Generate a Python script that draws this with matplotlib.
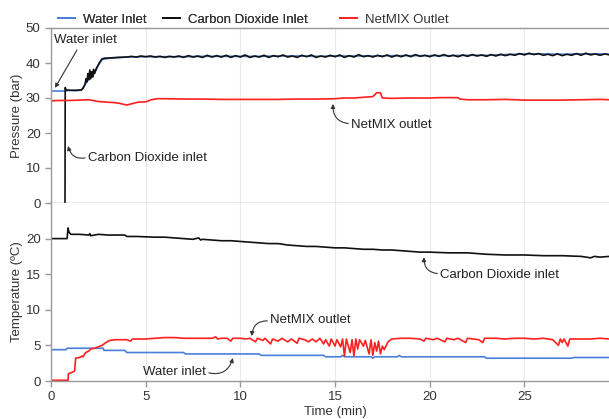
import matplotlib
matplotlib.use("Agg")
import matplotlib.pyplot as plt
from matplotlib.lines import Line2D

plt.rcParams['font.family'] = ['Liberation Sans', 'DejaVu Sans']
FS = 9.5

# ---------------- Pressure data (bar) ----------------
t_p_water = [0, 0.8, 0.9, 1.3, 1.6, 1.8, 2.0, 2.2, 2.4, 2.55, 2.7, 3.0,
             4, 5, 6, 7, 8, 9, 10, 11, 12, 13, 14, 15, 16, 17, 18, 19, 20,
             21, 22, 23, 24, 25, 26, 27, 28, 29, 29.5]
p_water = [32.0, 32.0, 32.2, 32.1, 32.2, 33.8, 35.5, 36.2, 38.3, 39.8, 41.0, 41.3,
           41.7, 41.8, 41.8, 41.8, 41.9, 41.9, 41.9, 41.9, 42.0, 42.0, 41.9, 42.0,
           42.0, 42.0, 42.1, 42.1, 42.1, 42.1, 42.2, 42.2, 42.4, 42.6, 42.6, 42.5,
           42.6, 42.6, 42.5]

t_p_co2 = [0.74, 0.75, 0.8, 1.0, 1.3, 1.6, 1.7, 1.8, 1.85, 1.9, 1.95, 2.0, 2.05,
           2.1, 2.15, 2.2, 2.25, 2.3, 2.4, 2.55, 2.7, 2.85, 3.0, 3.5,
           4.0, 4.25, 4.5, 4.75, 5.0, 5.25, 5.5, 5.75, 6.0, 6.25, 6.5, 6.75,
           7.0, 7.25, 7.5, 7.75, 8.0, 8.25, 8.5, 8.75, 9.0, 9.25, 9.5, 9.75,
           10.0, 10.25, 10.5, 10.75, 11.0, 11.25, 11.5, 11.75, 12.0, 12.25, 12.5, 12.75,
           13.0, 13.25, 13.5, 13.75, 14.0, 14.25, 14.5, 14.75, 15.0, 15.25, 15.5, 15.75,
           16.0, 16.25, 16.5, 16.75, 17.0, 17.25, 17.5, 17.75, 18.0, 18.25, 18.5, 18.75,
           19.0, 19.25, 19.5, 19.75, 20.0, 20.25, 20.5, 20.75, 21.0, 21.25, 21.5, 21.75,
           22.0, 22.25, 22.5, 22.75, 23.0, 23.25, 23.5, 23.75, 24.0, 24.25, 24.5, 24.75,
           25.0, 25.25, 25.5, 25.75, 26.0, 26.25, 26.5, 26.75, 27.0, 27.25, 27.5, 27.75,
           28.0, 28.25, 28.5, 28.75, 29.0, 29.25, 29.5]
p_co2 = [0, 33, 32.3, 32.2, 32.2, 32.3, 32.8, 34.0, 35.5, 34.6, 37.0, 35.2, 38.0,
         35.5, 37.5, 36.0, 38.2, 37.0, 38.5, 40.0, 41.2, 41.4, 41.4, 41.6,
         41.7, 41.9, 41.7, 42.0, 41.8, 42.0, 41.7, 41.9, 41.6, 41.9, 41.7, 42.0,
         41.6, 42.1, 41.7, 42.0, 41.6, 42.2, 41.7, 42.1, 41.7, 42.2, 41.6, 42.1,
         41.7, 42.3, 41.6, 42.0, 41.7, 42.2, 41.6, 42.1, 41.8, 42.3, 41.7, 42.0,
         41.6, 42.2, 41.8, 42.3, 41.6, 42.0, 41.7, 42.2, 41.8, 42.3, 41.6, 42.1,
         41.7, 42.4, 41.8, 42.1, 41.7, 42.2, 41.8, 42.3, 41.7, 42.2, 41.8, 42.3,
         41.8, 42.4, 41.9, 42.2, 41.8, 42.3, 41.9, 42.4, 41.9, 42.2, 41.8, 42.3,
         41.9, 42.4, 42.0, 42.3, 41.9, 42.4, 42.0, 42.5, 42.1, 42.5, 42.2, 42.7,
         42.3, 42.8, 42.4, 42.7, 42.2, 42.5, 42.1, 42.6, 42.1, 42.5, 42.2, 42.7,
         42.2, 42.8, 42.3, 42.6, 42.2, 42.6, 42.3]

t_p_out = [0, 0.5, 1.0, 1.5, 2.0, 2.5, 3.0, 3.3, 3.6, 4.0, 4.3, 4.6, 5.0, 5.3, 5.6,
           6, 7, 8, 9, 10, 11, 12, 13, 14, 15, 15.5, 16, 16.5, 17.0, 17.2, 17.4,
           17.5, 18, 19, 20, 20.5, 21.5, 21.6, 22, 23, 24, 24.5, 25, 26, 27, 28, 29, 29.5]
p_out = [29.2, 29.3, 29.3, 29.4, 29.5, 29.0, 28.8, 28.7, 28.5, 28.0, 28.4, 28.8, 28.9,
         29.5, 29.8, 29.8, 29.7, 29.7, 29.6, 29.6, 29.6, 29.6, 29.7, 29.7, 29.8, 30.0,
         30.0, 30.2, 30.4, 31.5, 31.5, 30.0, 29.9, 30.0, 30.0, 30.1, 30.1, 29.7, 29.5,
         29.5, 29.6, 29.5, 29.4, 29.4, 29.4, 29.5, 29.6, 29.5]

# ---------------- Temperature data (ºC) ----------------
t_T_water = [0, 0.8, 0.85, 2.75, 2.8, 3.9, 4.0, 7.0, 7.1, 11.0, 11.1, 14.4, 14.5,
             15.3, 15.4, 15.5, 16.9, 17.0, 17.1, 18.3, 18.4, 18.5, 22.9, 23.0,
             27.5, 27.6, 29.5]
T_water = [4.4, 4.4, 4.6, 4.6, 4.3, 4.3, 4.0, 4.0, 3.8, 3.8, 3.6, 3.6, 3.4,
           3.4, 3.6, 3.4, 3.4, 3.2, 3.4, 3.4, 3.6, 3.4, 3.4, 3.2,
           3.2, 3.3, 3.3]

t_T_co2 = [0, 0.85, 0.9, 0.95, 1.05, 1.5, 2.0, 2.05, 2.1, 2.5, 3.0, 3.5, 3.9, 4.0,
           4.5, 5.0, 5.5, 6.0, 6.5, 7.0, 7.5, 7.8, 7.9, 8.0, 8.5, 9.0, 9.5, 10.0,
           10.5, 11.0, 11.5, 12.0, 12.5, 13.0, 13.5, 14.0, 14.5, 15.0, 15.5, 16.0,
           16.5, 17.0, 17.5, 18.0, 18.5, 19.0, 19.5, 20.0, 21.0, 22.0, 22.5, 23.0,
           24.0, 25.0, 26.0, 27.0, 28.0, 28.5, 28.7, 29.0, 29.5]
T_co2 = [20.0, 20.0, 21.5, 20.9, 20.6, 20.6, 20.5, 20.7, 20.4, 20.6, 20.5, 20.5,
         20.5, 20.3, 20.3, 20.25, 20.2, 20.2, 20.1, 20.0, 19.9, 20.1, 19.8, 19.9,
         19.8, 19.7, 19.7, 19.6, 19.5, 19.4, 19.3, 19.3, 19.1, 19.0, 18.9, 18.9,
         18.8, 18.7, 18.7, 18.6, 18.5, 18.5, 18.4, 18.4, 18.3, 18.2, 18.1, 18.1,
         18.0, 18.0, 17.9, 17.8, 17.7, 17.7, 17.6, 17.6, 17.5, 17.3, 17.5, 17.4, 17.5]

t_T_out = [0, 0.9, 0.92, 1.1, 1.25, 1.3, 1.5, 1.65, 1.7, 1.8, 1.9, 2.0, 2.1, 2.3, 2.5,
           2.7, 2.9, 3.1, 3.4, 3.7, 4.0, 4.2, 4.3, 4.6, 5.0, 5.5, 6.0, 6.5, 7.0, 7.5,
           8.0, 8.5, 8.7, 8.8, 9.0, 9.3, 9.5, 9.6, 10, 10.3, 10.5, 10.8, 10.9, 11.2,
           11.3, 11.6, 11.7, 12, 12.2, 12.5, 12.7, 13.0, 13.1, 13.4, 13.6, 13.8, 14.0,
           14.2, 14.4, 14.5, 14.7, 14.8, 15.0, 15.1, 15.3, 15.4, 15.5, 15.6, 15.8, 15.9,
           16.0, 16.1, 16.2, 16.3, 16.5, 16.6, 16.8, 16.9, 17.0, 17.1, 17.2, 17.3, 17.4,
           17.5, 17.6, 17.8, 18.0, 18.5, 19.0, 19.5, 19.7, 19.8, 20.2, 20.4, 20.8, 20.9,
           21.3, 21.5, 21.9, 22.0, 22.6, 22.8, 22.9, 23.5, 24.0, 24.5, 25.0, 25.5, 26.0,
           26.5, 26.8, 26.9, 27.0, 27.1, 27.3, 27.4, 27.8, 28.0, 28.5, 29.0, 29.5]
T_out = [0.1, 0.1, 1.0, 1.2, 1.4, 3.2, 3.3, 3.5, 3.4, 3.9, 4.1, 4.2, 4.5, 4.6, 4.8,
         5.0, 5.4, 5.7, 5.8, 5.8, 5.8, 5.6, 5.9, 5.9, 5.9, 6.0, 6.1, 6.1, 6.0, 6.0,
         6.0, 6.0, 6.2, 5.9, 6.0, 6.0, 5.6, 6.0, 6.0, 5.9, 6.0, 5.5, 6.0, 5.7,
         6.0, 5.2, 5.9, 5.6, 6.0, 5.5, 5.9, 5.3, 6.0, 5.8, 5.5, 5.9, 5.5,
         6.0, 5.2, 5.8, 4.9, 5.9, 4.9, 5.8, 4.8, 5.9, 3.5, 5.9, 4.0, 5.8,
         3.5, 5.9, 4.5, 5.8, 4.9, 5.7, 3.8, 5.8, 3.6, 5.4, 4.2, 5.6, 3.8,
         4.9, 4.4, 5.5, 5.9, 6.0, 6.0, 5.9, 5.6, 6.0, 5.8, 6.0, 5.5, 6.0,
         5.8, 6.0, 5.4, 6.0, 5.8, 5.4, 6.0, 6.0, 5.9, 6.0, 6.0, 5.9, 6.0,
         5.8, 5.0, 5.9, 5.4, 5.9, 4.9, 5.9, 5.9, 5.9, 5.9, 6.0, 5.9]

labels = ['Water Inlet', 'Carbon Dioxide Inlet', 'NetMIX Outlet']
x_ticks = [0, 5, 10, 15, 20, 25]
c_water, c_co2, c_out = '#4a7fd8', '#111111', '#ff1f1f'

W, H = 609, 419
fig = plt.figure(figsize=(W / 100, H / 100), dpi=100)
ax1 = fig.add_axes([51 / W, (H - 203) / H, 568 / W, 175 / H])
ax2 = fig.add_axes([51 / W, (H - 381) / H, 568 / W, 178 / H])

lw = 1.2
ax1.plot(t_p_water, p_water, color=c_water, lw=lw)
ax1.plot(t_p_co2, p_co2, color=c_co2, lw=lw)
ax1.plot(t_p_out, p_out, color=c_out, lw=lw)

ax2.plot(t_T_water, T_water, color=c_water, lw=lw)
ax2.plot(t_T_co2, T_co2, color=c_co2, lw=lw)
ax2.plot(t_T_out, T_out, color=c_out, lw=lw)

spine_c = '#999999'
for ax in (ax1, ax2):
    ax.set_xlim(0, 30)
    ax.set_xticks(x_ticks)
    ax.grid(axis='x', color='#ebebeb', lw=0.8)
    ax.set_axisbelow(True)
    for s in ax.spines.values():
        s.set_color(spine_c)
        s.set_linewidth(1.0)
    ax.spines['right'].set_visible(False)
    ax.tick_params(colors=spine_c, labelcolor='#333333', labelsize=FS,
                   direction='out', length=4, width=1.0)

ax1.set_ylim(0, 50)
ax1.set_yticks([0, 10, 20, 30, 40, 50])
ax1.tick_params(axis='x', length=0, labelbottom=False)
ax1.set_ylabel('Pressure (bar)', fontsize=FS, color='#333333')
ax1.yaxis.set_label_coords(-0.05, 0.5)

ax2.set_ylim(0, 25)
ax2.set_yticks([0, 5, 10, 15, 20])
ax2.spines['top'].set_visible(False)
ax2.set_ylabel('Temperature (ºC)', fontsize=FS, color='#333333')
ax2.yaxis.set_label_coords(-0.05, 0.5)
ax2.set_xlabel('Time (min)', fontsize=FS, color='#333333', labelpad=2)

arr = dict(arrowstyle='-|>', color='#333333', lw=0.8, mutation_scale=6,
           shrinkA=0, shrinkB=0)
tc = '#222222'

# Pressure annotations
ax1.text(0.16, 46.6, 'Water inlet', fontsize=FS, color=tc, va='center', ha='left')
ax1.annotate('', xy=(0.21, 32.9), xytext=(1.37, 43.7), arrowprops=arr)
ax1.annotate('Carbon Dioxide inlet', xy=(0.9, 16.3), xytext=(1.95, 12.9),
             fontsize=FS, color=tc, va='center', ha='left',
             arrowprops=dict(arr, connectionstyle='arc3,rad=-0.5', relpos=(0, 0.55)))
ax1.annotate('NetMIX outlet', xy=(14.9, 28.3), xytext=(15.85, 22.3),
             fontsize=FS, color=tc, va='center', ha='left',
             arrowprops=dict(arr, connectionstyle='arc3,rad=-0.5', relpos=(0, 0.6)))

# Temperature annotations
ax2.annotate('Carbon Dioxide inlet', xy=(19.7, 17.4), xytext=(20.55, 14.9),
             fontsize=FS, color=tc, va='center', ha='left',
             arrowprops=dict(arr, connectionstyle='arc3,rad=-0.5', relpos=(0, 0.6)))
ax2.annotate('NetMIX outlet', xy=(10.6, 6.3), xytext=(11.57, 8.6),
             fontsize=FS, color=tc, va='center', ha='left',
             arrowprops=dict(arr, connectionstyle='arc3,rad=0.5', relpos=(0, 0.4)))
ax2.annotate('Water inlet', xy=(9.61, 3.23), xytext=(8.19, 1.26),
             fontsize=FS, color=tc, va='center', ha='right',
             arrowprops=dict(arr, connectionstyle='arc3,rad=0.5', relpos=(1.0, 0.5)))

# Legend (two pieces to match spacing)
h = [Line2D([], [], color=c, lw=1.4) for c in (c_water, c_co2, c_out)]
leg1 = fig.legend(h[:2], labels[:2], loc='center left',
                  bbox_to_anchor=(58 / W, 1 - 20 / H), ncol=2, frameon=False,
                  fontsize=FS, borderpad=0, borderaxespad=0, handlelength=1.3,
                  handletextpad=0.6, columnspacing=1.2, labelcolor='#333333')
fig.add_artist(leg1)
fig.legend(h[2:], labels[2:], loc='center left',
           bbox_to_anchor=(340 / W, 1 - 20 / H), frameon=False,
           fontsize=FS, borderpad=0, borderaxespad=0, handlelength=1.3,
           handletextpad=0.6, labelcolor='#333333')

fig.savefig('out.png', dpi=100)
